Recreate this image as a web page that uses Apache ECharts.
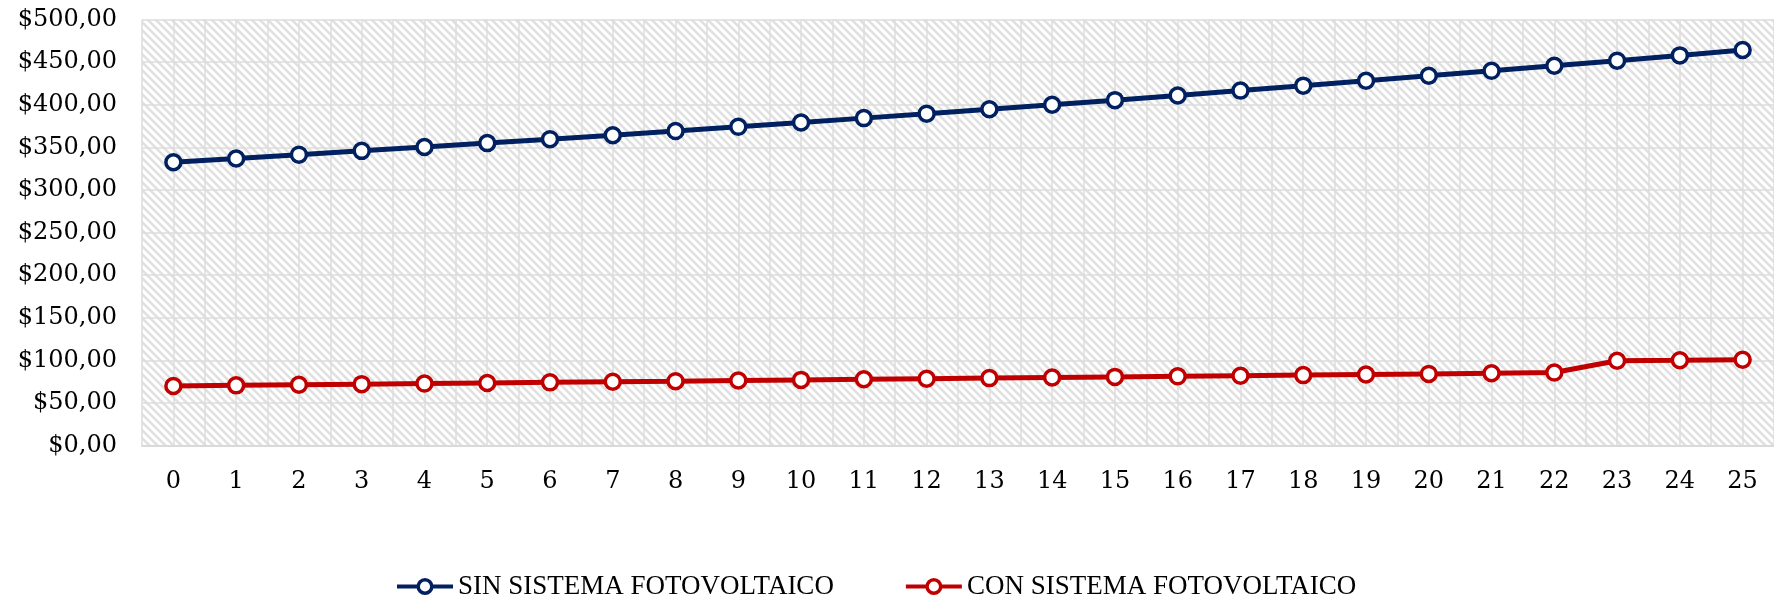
<!DOCTYPE html>
<html>
<head>
<meta charset="utf-8">
<script src="https://cdn.jsdelivr.net/npm/echarts@6/dist/echarts.min.js"></script>
<style>html,body{margin:0;padding:0;background:#fff;}#c{width:1774px;height:600px;}</style>
</head>
<body>
<div id="c"></div>
<script>
var years = ['0','1','2','3','4','5','6','7','8','9','10','11','12','13','14','15','16','17','18','19','20','21','22','23','24','25'];
var sinSistema = [332.5, 337.0, 341.4, 345.9, 350.4, 355.0, 359.6, 364.2, 369.1, 374.1, 379.2, 384.3, 389.5, 394.7, 400.0, 405.4, 410.9, 416.6, 422.4, 428.2, 434.0, 439.8, 445.8, 451.7, 457.9, 464.2];
var conSistema = [70.1, 70.8, 71.5, 72.2, 72.9, 73.6, 74.3, 75.0, 75.7, 76.5, 77.2, 77.9, 78.6, 79.3, 80.0, 80.7, 81.4, 82.1, 82.8, 83.5, 84.2, 85.0, 85.8, 99.7, 100.2, 100.9];
var seriesNames = ['SIN SISTEMA FOTOVOLTAICO', 'CON SISTEMA FOTOVOLTAICO'];

// hatch pattern for plot background
var pc = document.createElement('canvas');
pc.width = 8; pc.height = 8;
var g = pc.getContext('2d');
g.fillStyle = '#ffffff'; g.fillRect(0,0,8,8);
g.strokeStyle = '#e0e0e0'; g.lineWidth = 2.6;
for (var c = -8; c <= 8; c += 8) {
  g.beginPath(); g.moveTo(-2, -2 + c); g.lineTo(10, 10 + c); g.stroke();
}

var chart = echarts.init(document.getElementById('c'), null, {renderer: 'canvas'});
var serifAxis = 'DejaVu Serif';
chart.setOption({
  animation: false,
  grid: {
    left: 142, right: -2, top: 19.5, bottom: 154.3,
    show: true, borderWidth: 0,
    backgroundColor: {image: pc, repeat: 'repeat'}
  },
  legend: {
    data: seriesNames,
    left: 390, top: 568,
    itemWidth: 56, itemHeight: 17, itemGap: 70,
    lineStyle: {width: 4},
    itemStyle: {borderWidth: 3.5},
    textStyle: {fontFamily: 'Liberation Serif', fontSize: 27, color: '#000'}
  },
  xAxis: [{
    type: 'category',
    data: years,
    boundaryGap: true,
    axisLine: {show: true, lineStyle: {color: '#d9d9d9', width: 2}},
    axisTick: {show: false},
    splitLine: {show: false},
    axisLabel: {fontFamily: serifAxis, fontSize: 24, color: '#000', margin: 24}
  }, {
    type: 'value',
    min: -0.5, max: 25.5, interval: 0.5,
    position: 'bottom',
    axisLine: {show: false}, axisTick: {show: false}, axisLabel: {show: false},
    splitLine: {show: true, lineStyle: {color: '#dcdcdc', width: 1.5}}
  }],
  yAxis: {
    type: 'value',
    min: 0, max: 500, interval: 50,
    axisLine: {show: false}, axisTick: {show: false},
    axisLabel: {
      fontFamily: serifAxis, fontSize: 24, color: '#000', margin: 25,
      formatter: function (v) { return '$' + v.toFixed(2).replace('.', ','); }
    },
    splitLine: {show: true, lineStyle: {color: '#dcdcdc', width: 1.5}}
  },
  series: [{
    name: seriesNames[0], type: 'line', data: sinSistema, xAxisIndex: 0,
    symbol: 'circle', symbolSize: 15,
    lineStyle: {color: '#002060', width: 5},
    itemStyle: {color: '#ffffff', borderColor: '#002060', borderWidth: 3.5},
    color: '#002060', z: 3
  }, {
    name: seriesNames[1], type: 'line', data: conSistema, xAxisIndex: 0,
    symbol: 'circle', symbolSize: 15,
    lineStyle: {color: '#c00000', width: 5},
    itemStyle: {color: '#ffffff', borderColor: '#c00000', borderWidth: 3.5},
    color: '#c00000', z: 3
  }]
});
</script>
</body>
</html>
